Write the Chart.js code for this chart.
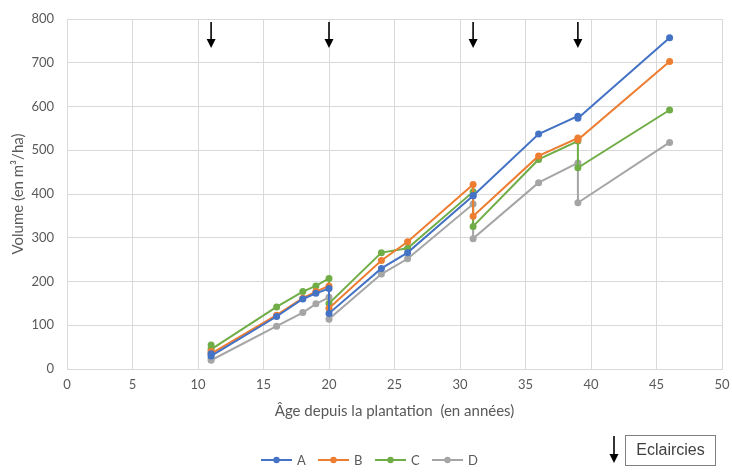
<!DOCTYPE html>
<html>
<head>
<meta charset="utf-8">
<script src="https://cdn.jsdelivr.net/npm/chart.js@4/dist/chart.umd.min.js"></script>
<style>
  html, body { margin: 0; padding: 0; background: #fff; }
  #wrap { width: 732px; height: 472px; position: relative; }
</style>
</head>
<body>
<div id="wrap"><canvas id="chart" width="732" height="472"></canvas></div>
<script>
// ages (years since planting); repeated ages = before / after thinning
var ages = [11, 11, 16, 18, 19, 20, 20, 24, 26, 31, 31, 36, 39, 39, 46];
var volA = [35, 30, 120, 160, 173, 184, 127, 230, 266, 396, 396, 537, 578, 573, 757];
var volB = [40, 35, 123, 162, 177, 190, 139, 248, 291, 422, 349, 487, 528, 524, 703];
var volC = [55, 45, 142, 177, 190, 207, 150, 266, 276, 405, 326, 479, 521, 460, 592];
var volD = [25, 20, 98, 129, 149, 164, 114, 217, 252, 377, 298, 426, 471, 380, 518];
var seriesNames = ['A', 'B', 'C', 'D'];
var thinningYears = [11, 20, 31, 39];
var xTicks = [0, 5, 10, 15, 20, 25, 30, 35, 40, 45, 50];
var yTicks = [0, 100, 200, 300, 400, 500, 600, 700, 800];

var colors = ['#4472C4', '#ED7D31', '#70AD47', '#A5A5A5'];
var textColor = '#595959';
var gridColor = '#D9D9D9';
var fontFamily = 'Lato, "Open Sans", sans-serif';

function toPoints(vals){
    return ages.map(function(a, i){ return { x: a, y: vals[i] }; });
}

var datasets = [volA, volB, volC, volD].map(function(vals, i){
    return {
        label: seriesNames[i],
        data: toPoints(vals),
        borderColor: colors[i],
        backgroundColor: colors[i],
        borderWidth: 2,
        pointRadius: 3.5,
        pointHoverRadius: 3.5,
        pointBorderWidth: 0,
        tension: 0
    };
});

// arrows at the top for thinnings + custom legend + "Eclaircies" key
var extrasPlugin = {
    id: 'extras',
    afterDraw: function(chart){
        var ctx = chart.ctx;
        var xs = chart.scales.x;

        function arrow(x, y0, y1){
            ctx.save();
            ctx.strokeStyle = '#000';
            ctx.fillStyle = '#000';
            ctx.lineWidth = 1.6;
            ctx.beginPath();
            ctx.moveTo(x, y0);
            ctx.lineTo(x, y1 - 8);
            ctx.stroke();
            ctx.beginPath();
            ctx.moveTo(x - 4.5, y1 - 9);
            ctx.lineTo(x + 4.5, y1 - 9);
            ctx.lineTo(x, y1);
            ctx.closePath();
            ctx.fill();
            ctx.restore();
        }

        thinningYears.forEach(function(yr){
            arrow(xs.getPixelForValue(yr), 22, 48);
        });

        // legend
        ctx.save();
        ctx.font = '13px ' + fontFamily;
        ctx.textBaseline = 'middle';
        ctx.fillStyle = textColor;
        var lx = 261, ly = 460;
        chart.data.datasets.forEach(function(ds){
            ctx.strokeStyle = ds.borderColor;
            ctx.lineWidth = 2;
            ctx.beginPath();
            ctx.moveTo(lx, ly);
            ctx.lineTo(lx + 31, ly);
            ctx.stroke();
            ctx.fillStyle = ds.borderColor;
            ctx.beginPath();
            ctx.arc(lx + 15.5, ly, 3.2, 0, Math.PI * 2);
            ctx.fill();
            ctx.fillStyle = textColor;
            ctx.fillText(ds.label, lx + 36, ly + 1);
            lx += 57;
        });
        ctx.restore();

        // Eclaircies key
        arrow(614, 436, 463);
        ctx.save();
        ctx.strokeStyle = '#808080';
        ctx.lineWidth = 1;
        ctx.strokeRect(625.5, 435.5, 90, 30);
        ctx.font = '16px "Liberation Sans", Arial, sans-serif';
        ctx.fillStyle = '#404040';
        ctx.textAlign = 'center';
        ctx.textBaseline = 'middle';
        ctx.fillText('Eclaircies', 670.5, 451);
        ctx.restore();
    }
};

var ctx = document.getElementById('chart').getContext('2d');
new Chart(ctx, {
    type: 'line',
    data: { datasets: datasets },
    plugins: [extrasPlugin],
    options: {
        responsive: false,
        animation: false,
        layout: { padding: { left: 0, right: 10, top: 19, bottom: 43 } },
        plugins: { legend: { display: false }, tooltip: { enabled: false } },
        scales: {
            x: {
                type: 'linear',
                min: 0, max: 50,
                afterFit: function(s){ s.height = 60; s.paddingRight = 0; s.paddingLeft = 0; },
                afterBuildTicks: function(s){ s.ticks = xTicks.map(function(v){ return { value: v }; }); },
                grid: { color: gridColor, lineWidth: 1, drawTicks: false },
                border: { color: gridColor, width: 1 },
                ticks: { color: textColor, padding: 8, maxRotation: 0, font: { family: fontFamily, size: 13 } },
                title: {
                    display: true,
                    text: 'Âge depuis la plantation  (en années)',
                    color: textColor,
                    padding: { top: 0, bottom: 9 },
                    font: { family: fontFamily, size: 15 }
                }
            },
            y: {
                min: 0, max: 800,
                afterFit: function(s){ s.width = 67; s.paddingTop = 0; s.paddingBottom = 0; },
                afterBuildTicks: function(s){ s.ticks = yTicks.map(function(v){ return { value: v }; }); },
                grid: { color: gridColor, lineWidth: 1, drawTicks: false },
                border: { color: gridColor, width: 1 },
                ticks: { color: textColor, padding: 13, font: { family: fontFamily, size: 13 } },
                title: {
                    display: true,
                    text: 'Volume (en m³/ha)',
                    color: textColor,
                    padding: { top: 9, bottom: 0 },
                    font: { family: fontFamily, size: 15 }
                }
            }
        }
    }
});
</script>
</body>
</html>
